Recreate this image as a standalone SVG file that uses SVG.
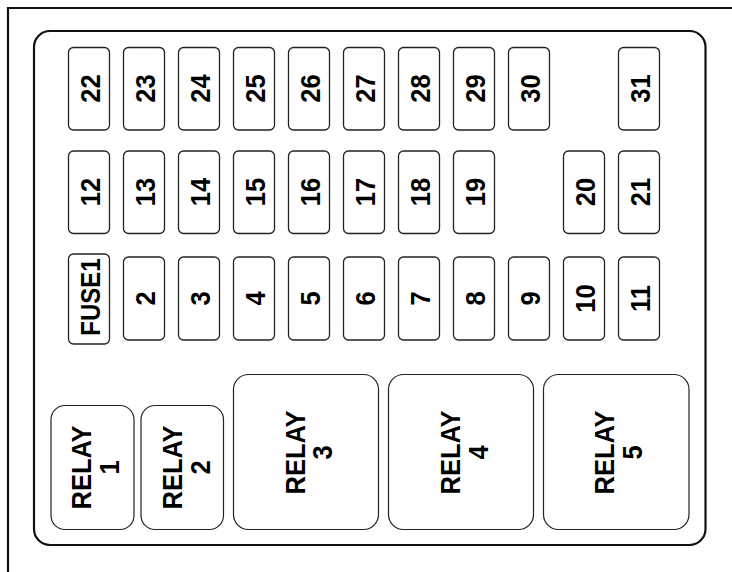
<svg xmlns="http://www.w3.org/2000/svg" width="732" height="572" viewBox="0 0 732 572">
<style>
.frame{fill:none;stroke:#111;stroke-width:2.2}
.panel{fill:#fff;stroke:#111;stroke-width:2.2}
.fuse{fill:#fff;stroke:#222;stroke-width:1.3}
.relay{fill:#fff;stroke:#222;stroke-width:1.2}
text{font-family:"Liberation Sans",Arial,sans-serif;font-size:25.5px;font-weight:bold;fill:#000;text-anchor:middle}
.small{font-size:24px}
</style>
<rect width="732" height="572" fill="#fff"/>
<path class="frame" d="M8,572 V8 H732"/>
<rect class="panel" x="34" y="31" width="671.5" height="514" rx="16"/>
<g id="fuses">
<g id="f22"><rect class="fuse" x="68.5" y="47.5" width="41" height="82.5" rx="5"/><text transform="translate(100,88.5) rotate(-90) scale(1,1.08)">22</text></g>
<g id="f23"><rect class="fuse" x="123.5" y="47.5" width="41" height="82.5" rx="5"/><text transform="translate(155,88.5) rotate(-90) scale(1,1.08)">23</text></g>
<g id="f24"><rect class="fuse" x="178.5" y="47.5" width="41" height="82.5" rx="5"/><text transform="translate(210,88.5) rotate(-90) scale(1,1.08)">24</text></g>
<g id="f25"><rect class="fuse" x="233.5" y="47.5" width="41" height="82.5" rx="5"/><text transform="translate(265,88.5) rotate(-90) scale(1,1.08)">25</text></g>
<g id="f26"><rect class="fuse" x="288.5" y="47.5" width="41" height="82.5" rx="5"/><text transform="translate(320,88.5) rotate(-90) scale(1,1.08)">26</text></g>
<g id="f27"><rect class="fuse" x="343.5" y="47.5" width="41" height="82.5" rx="5"/><text transform="translate(375,88.5) rotate(-90) scale(1,1.08)">27</text></g>
<g id="f28"><rect class="fuse" x="398.5" y="47.5" width="41" height="82.5" rx="5"/><text transform="translate(430,88.5) rotate(-90) scale(1,1.08)">28</text></g>
<g id="f29"><rect class="fuse" x="453.5" y="47.5" width="41" height="82.5" rx="5"/><text transform="translate(485,88.5) rotate(-90) scale(1,1.08)">29</text></g>
<g id="f30"><rect class="fuse" x="508.5" y="47.5" width="41" height="82.5" rx="5"/><text transform="translate(540,88.5) rotate(-90) scale(1,1.08)">30</text></g>
<g id="f31"><rect class="fuse" x="618.5" y="47.5" width="41" height="82.5" rx="5"/><text transform="translate(650,88.5) rotate(-90) scale(1,1.08)">31</text></g>

<g id="f12"><rect class="fuse" x="68.5" y="151" width="41" height="82.5" rx="5"/><text transform="translate(100,192) rotate(-90) scale(1,1.08)">12</text></g>
<g id="f13"><rect class="fuse" x="123.5" y="151" width="41" height="82.5" rx="5"/><text transform="translate(155,192) rotate(-90) scale(1,1.08)">13</text></g>
<g id="f14"><rect class="fuse" x="178.5" y="151" width="41" height="82.5" rx="5"/><text transform="translate(210,192) rotate(-90) scale(1,1.08)">14</text></g>
<g id="f15"><rect class="fuse" x="233.5" y="151" width="41" height="82.5" rx="5"/><text transform="translate(265,192) rotate(-90) scale(1,1.08)">15</text></g>
<g id="f16"><rect class="fuse" x="288.5" y="151" width="41" height="82.5" rx="5"/><text transform="translate(320,192) rotate(-90) scale(1,1.08)">16</text></g>
<g id="f17"><rect class="fuse" x="343.5" y="151" width="41" height="82.5" rx="5"/><text transform="translate(375,192) rotate(-90) scale(1,1.08)">17</text></g>
<g id="f18"><rect class="fuse" x="398.5" y="151" width="41" height="82.5" rx="5"/><text transform="translate(430,192) rotate(-90) scale(1,1.08)">18</text></g>
<g id="f19"><rect class="fuse" x="453.5" y="151" width="41" height="82.5" rx="5"/><text transform="translate(485,192) rotate(-90) scale(1,1.08)">19</text></g>
<g id="f20"><rect class="fuse" x="563.5" y="151" width="41" height="82.5" rx="5"/><text transform="translate(595,192) rotate(-90) scale(1,1.08)">20</text></g>
<g id="f21"><rect class="fuse" x="618.5" y="151" width="41" height="82.5" rx="5"/><text transform="translate(650,192) rotate(-90) scale(1,1.08)">21</text></g>

<g id="fuse1"><rect class="fuse" x="68.5" y="254" width="41" height="90" rx="5"/><text class="small" transform="translate(99.5,297) rotate(-90) scale(1,1.15)">FUSE1</text></g>
<g id="f2"><rect class="fuse" x="123.5" y="257" width="41" height="83" rx="5"/><text transform="translate(155,298.5) rotate(-90) scale(1,1.08)">2</text></g>
<g id="f3"><rect class="fuse" x="178.5" y="257" width="41" height="83" rx="5"/><text transform="translate(210,298.5) rotate(-90) scale(1,1.08)">3</text></g>
<g id="f4"><rect class="fuse" x="233.5" y="257" width="41" height="83" rx="5"/><text transform="translate(265,298.5) rotate(-90) scale(1,1.08)">4</text></g>
<g id="f5"><rect class="fuse" x="288.5" y="257" width="41" height="83" rx="5"/><text transform="translate(320,298.5) rotate(-90) scale(1,1.08)">5</text></g>
<g id="f6"><rect class="fuse" x="343.5" y="257" width="41" height="83" rx="5"/><text transform="translate(375,298.5) rotate(-90) scale(1,1.08)">6</text></g>
<g id="f7"><rect class="fuse" x="398.5" y="257" width="41" height="83" rx="5"/><text transform="translate(430,298.5) rotate(-90) scale(1,1.08)">7</text></g>
<g id="f8"><rect class="fuse" x="453.5" y="257" width="41" height="83" rx="5"/><text transform="translate(485,298.5) rotate(-90) scale(1,1.08)">8</text></g>
<g id="f9"><rect class="fuse" x="508.5" y="257" width="41" height="83" rx="5"/><text transform="translate(540,298.5) rotate(-90) scale(1,1.08)">9</text></g>
<g id="f10"><rect class="fuse" x="563.5" y="257" width="41" height="83" rx="5"/><text transform="translate(595,298.5) rotate(-90) scale(1,1.08)">10</text></g>
<g id="f11"><rect class="fuse" x="618.5" y="257" width="41" height="83" rx="5"/><text transform="translate(650,298.5) rotate(-90) scale(1,1.08)">11</text></g>
</g>
<g id="relays">
<g id="relay1"><rect class="relay" x="51" y="405.5" width="83" height="124" rx="14"/><text transform="translate(91,467.5) rotate(-90) scale(1,1.08)">RELAY</text><text transform="translate(118.5,467.5) rotate(-90) scale(1,1.08)">1</text></g>
<g id="relay2"><rect class="relay" x="141" y="405.5" width="82.5" height="124" rx="14"/><text transform="translate(181.5,467.5) rotate(-90) scale(1,1.08)">RELAY</text><text transform="translate(209.5,467.5) rotate(-90) scale(1,1.08)">2</text></g>
<g id="relay3"><rect class="relay" x="233.5" y="374.5" width="145" height="155" rx="15"/><text transform="translate(305,452.5) rotate(-90) scale(1,1.08)">RELAY</text><text transform="translate(332,452.5) rotate(-90) scale(1,1.08)">3</text></g>
<g id="relay4"><rect class="relay" x="388.5" y="374.5" width="145" height="155" rx="15"/><text transform="translate(460,452.5) rotate(-90) scale(1,1.08)">RELAY</text><text transform="translate(487.5,452.5) rotate(-90) scale(1,1.08)">4</text></g>
<g id="relay5"><rect class="relay" x="543.5" y="374.5" width="145.5" height="155" rx="15"/><text transform="translate(614,452.5) rotate(-90) scale(1,1.08)">RELAY</text><text transform="translate(642,452.5) rotate(-90) scale(1,1.08)">5</text></g>
</g>
</svg>
